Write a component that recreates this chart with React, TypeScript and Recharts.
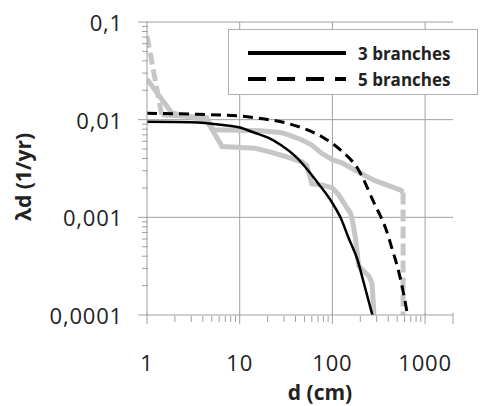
import { CartesianGrid, Legend, Line, LineChart, XAxis, YAxis } from "recharts";

// model curves
const x3 = [1, 3, 6.6, 10, 14.7, 20.5, 28.6, 40, 55, 71, 100, 122, 151, 186, 219, 270];
const y3 = [0.0095, 0.0094, 0.0088, 0.0083, 0.0073, 0.0065, 0.0054, 0.0042, 0.003, 0.0022, 0.0014, 0.001, 0.0006, 0.00037, 0.00021, 0.0001];
const x5 = [1, 2.9, 10, 16.6, 32.4, 53, 81, 122, 186, 293, 332, 376, 445, 504, 594, 646];
const y5 = [0.0116, 0.0114, 0.0109, 0.0103, 0.0092, 0.0079, 0.0065, 0.0049, 0.0032, 0.0013, 0.00102, 0.00077, 0.00046, 0.00031, 0.000155, 0.0001];

// empirical (grey) curves
const xUpStart = [1, 1.44];
const yUpStart = [0.072, 0.0112];
const xUp = [1.44, 4.4, 5.15, 16.6, 27.4, 33.7, 47, 60, 77, 100, 128, 169, 279, 547, 579];
const yUp = [0.0112, 0.0105, 0.0079, 0.0077, 0.0074, 0.007, 0.0062, 0.0055, 0.0045, 0.0039, 0.0036, 0.0031, 0.0024, 0.0019, 0.0018];
const xUpEnd = [579, 579];
const yUpEnd = [0.0018, 0.0001];
const xLow = [1, 1.85, 4.4, 6.45, 14.7, 20.5, 31, 47, 53, 58, 60, 77, 100, 117, 133, 157, 164, 178, 192, 210, 248, 268, 281];
const yLow = [0.026, 0.0117, 0.0098, 0.0053, 0.0051, 0.0047, 0.0042, 0.0037, 0.0034, 0.0025, 0.0022, 0.00215, 0.002, 0.0017, 0.0014, 0.0011, 0.00094, 0.0006, 0.00032, 0.00029, 0.00025, 0.00021, 0.0001];

const xMajor = [1, 10, 100, 1000];
const xMajorLabels = ["1", "10", "100", "1000"];
const xTicks = [1, 2, 3, 4, 5, 6, 7, 8, 9, 10, 20, 30, 40, 50, 60, 70, 80, 90, 100, 200, 300, 400, 500, 600, 700, 800, 900, 1000, 2000];
const yMajor = [0.1, 0.01, 0.001, 0.0001];
const yMajorLabels = ["0,1", "0,01", "0,001", "0,0001"];
const yTicks = [
  0.0001, 0.0002, 0.0003, 0.0004, 0.0005, 0.0006, 0.0007, 0.0008, 0.0009,
  0.001, 0.002, 0.003, 0.004, 0.005, 0.006, 0.007, 0.008, 0.009,
  0.01, 0.02, 0.03, 0.04, 0.05, 0.06, 0.07, 0.08, 0.09, 0.1,
];

const zip = (xs: number[], ys: number[]) => xs.map((x, i) => ({ x, y: ys[i] }));

const AXIS = "#a0a0a0";
const GREY = "#c6c6c6";
const INK = "#222";
const FONT = "'Open Sans', 'Liberation Sans', sans-serif";

function XTick({ x, y, payload }: any) {
  const i = xMajor.indexOf(payload.value);
  const big = i >= 0 || payload.value === 2000;
  return (
    <g>
      <line x1={x} x2={x} y1={big ? y - 2 : y + 1} y2={big ? y + 9 : y + 7} stroke={AXIS} />
      {i >= 0 && (
        <text x={x} y={y + 47} textAnchor="middle" dominantBaseline="central" fontSize={22} letterSpacing={0.8} fill={INK} fontFamily={FONT}>
          {xMajorLabels[i]}
        </text>
      )}
    </g>
  );
}

function YTick({ x, y, payload }: any) {
  const i = yMajor.findIndex((v) => Math.abs(v - payload.value) < v * 1e-6);
  return (
    <g>
      <line x1={i >= 0 ? x - 9 : x - 5} x2={x + 1} y1={y} y2={y} stroke={AXIS} />
      {i >= 0 && (
        <text x={x - 24} y={y} textAnchor="end" dominantBaseline="central" fontSize={22} letterSpacing={0.8} fill={INK} fontFamily={FONT}>
          {yMajorLabels[i]}
        </text>
      )}
    </g>
  );
}

function XLabel() {
  return (
    <text x={320} y={392} textAnchor="middle" dominantBaseline="central" fontSize={21} fontWeight={700} fill={INK} fontFamily={FONT}>
      d (cm)
    </text>
  );
}

function YLabel() {
  return (
    <text x={23} y={177} transform="rotate(-90 23 177)" textAnchor="middle" dominantBaseline="central" fontSize={21} fontWeight={700} fill={INK} fontFamily={FONT}>
      λd (1/yr)
    </text>
  );
}

function LegendBox() {
  return (
    <div
      style={{
        width: 250,
        height: 66,
        border: "1.5px solid #b0b0b0",
        background: "#fff",
        boxSizing: "border-box",
        fontFamily: FONT,
        fontWeight: 700,
        fontSize: 17,
        color: INK,
      }}
    >
      {[
        { label: "3 branches", dash: undefined },
        { label: "5 branches", dash: "18 11" },
      ].map((r, k) => (
        <div key={k} style={{ display: "flex", alignItems: "center", height: 26, marginTop: k === 0 ? 10 : 0 }}>
          <svg width={129} height={10}>
            <line x1={19} x2={117} y1={5} y2={5} stroke="#000" strokeWidth={4} strokeDasharray={r.dash} />
          </svg>
          <span>{r.label}</span>
        </div>
      ))}
    </div>
  );
}

export default function App() {
  return (
    <>
      <style>{`body{margin:0;background:#fff}`}</style>
      <LineChart width={481} height={406} margin={{ top: 22, right: 28, left: 0, bottom: 0 }}>
        <CartesianGrid
          stroke={AXIS}
          horizontalValues={[0.1, 0.01, 0.001]}
          verticalValues={[10, 100, 1000]}
        />
        <XAxis
          type="number"
          dataKey="x"
          scale="log"
          domain={[1, 2000]}
          ticks={xTicks}
          interval={0}
          allowDataOverflow
          height={91}
          tickSize={0}
          tickMargin={0}
          tickLine={false}
          axisLine={{ stroke: AXIS }}
          tick={<XTick />}
          label={<XLabel />}
        />
        <YAxis
          type="number"
          dataKey="y"
          scale="log"
          domain={[0.0001, 0.1]}
          ticks={yTicks}
          interval={0}
          allowDataOverflow
          width={147}
          tickSize={0}
          tickMargin={0}
          tickLine={false}
          axisLine={{ stroke: AXIS }}
          tick={<YTick />}
          label={<YLabel />}
        />
        <Legend
          verticalAlign="middle"
          align="center"
          layout="horizontal"
          wrapperStyle={{ position: "absolute", left: 228, top: 29, width: 250 }}
          content={<LegendBox />}
        />
        <Line data={zip(xUpStart, yUpStart)} dataKey="y" stroke={GREY} strokeWidth={5} strokeDasharray="12 5" dot={false} isAnimationActive={false} legendType="none" />
        <Line data={zip(xUp, yUp)} dataKey="y" stroke={GREY} strokeWidth={5} dot={false} isAnimationActive={false} legendType="none" />
        <Line data={zip(xUpEnd, yUpEnd)} dataKey="y" stroke={GREY} strokeWidth={5} strokeDasharray="12 5" dot={false} isAnimationActive={false} legendType="none" />
        <Line data={zip(xLow, yLow)} dataKey="y" stroke={GREY} strokeWidth={5} dot={false} isAnimationActive={false} legendType="none" />
        <Line data={zip(x5, y5)} dataKey="y" type="monotone" stroke="#000" strokeWidth={3} strokeDasharray="10 6" dot={false} isAnimationActive={false} name="5 branches" />
        <Line data={zip(x3, y3)} dataKey="y" type="monotone" stroke="#000" strokeWidth={2.5} dot={false} isAnimationActive={false} name="3 branches" />
      </LineChart>
    </>
  );
}
